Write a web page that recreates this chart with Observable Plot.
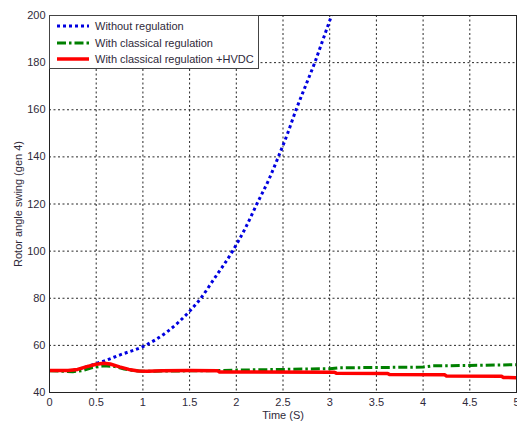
<!DOCTYPE html>
<html>
<head>
<meta charset="utf-8">
<script src="https://cdn.jsdelivr.net/npm/d3@7"></script>
<script src="https://cdn.jsdelivr.net/npm/@observablehq/plot@0.6"></script>
<style>
  html, body { margin: 0; padding: 0; background: #fff; }
  #wrap { position: relative; width: 517px; height: 421px; overflow: hidden; }
  #legend {
    position: absolute; left: 49px; top: 15px; width: 210px; height: 54px;
    background: #fff; border: 1px solid #444; box-sizing: border-box;
    font: 11px "Liberation Sans", Arial, sans-serif; color: #2f2a3a;
  }
  #legend .row { position: absolute; left: 6px; height: 16px; display: flex; align-items: center; }
  #legend svg { width: 34px; height: 8px; margin-right: 5px; }
</style>
</head>
<body>
<div id="wrap"></div>
<script>
const xTicks = [0, 0.5, 1, 1.5, 2, 2.5, 3, 3.5, 4, 4.5, 5];
const yTicks = [40, 60, 80, 100, 120, 140, 160, 180, 200];
const seriesNames = ["Without regulation", "With classical regulation", "With classical regulation +HVDC"];

const tBlue = [0, 0.2, 0.3, 0.4, 0.5, 0.6, 0.75, 1.0, 1.25, 1.5, 1.62, 1.75, 1.96, 2.1, 2.22, 2.35, 2.45, 2.55, 2.64, 2.74, 2.84, 2.93, 3.02, 3.1];
const vBlue = [49.3, 49.3, 49.8, 51.0, 52.3, 53.6, 55.9, 59.5, 65.5, 74.5, 80, 87.5, 100, 110, 120, 130.5, 140, 150, 160, 170, 180, 190, 200, 209];

const tGreen = [0, 0.15, 0.25, 0.35, 0.45, 0.58, 0.7, 0.8, 0.9, 1.0, 1.2, 1.5, 1.8, 2.0, 2.5, 3.0, 3.1, 3.5, 4.0, 4.1, 4.5, 5.0];
const vGreen = [49.2, 49.0, 48.8, 49.3, 50.5, 51.3, 51.0, 50.0, 49.3, 49.0, 49.1, 49.2, 49.3, 49.5, 49.8, 50.1, 50.5, 50.6, 50.8, 51.3, 51.5, 51.8];

const tRed = [0, 0.2, 0.3, 0.4, 0.5, 0.58, 0.65, 0.75, 0.85, 0.95, 1.05, 1.2, 1.5, 1.8, 1.82, 3.05, 3.07, 3.62, 3.64, 4.23, 4.25, 4.84, 4.86, 5.0];
const vRed = [49.3, 49.3, 49.8, 51.0, 52.0, 52.4, 52.1, 50.9, 49.8, 49.1, 49.0, 49.2, 49.3, 49.2, 48.7, 48.6, 48.2, 48.1, 47.6, 47.5, 47.0, 46.9, 46.4, 46.3];

const colors = ["#0000e0", "#008000", "#ff0000"];
const dashes = ["3,3", "9,3,2.5,3", null];
const widths = [3, 3, 3.5];

const toRows = (ts, vs) => ts.map((t, i) => ({t, v: vs[i]}));
const blue = toRows(tBlue, vBlue);
const green = toRows(tGreen, vGreen);
const red = toRows(tRed, vRed);

const font = '"Liberation Sans", Arial, sans-serif';
const plot = Plot.plot({
  width: 517,
  height: 421,
  marginLeft: 49,
  marginRight: 1,
  marginTop: 15,
  marginBottom: 29,
  style: {fontFamily: font, fontSize: "11px", color: "#2f2a3a", background: "#fff", overflow: "visible"},
  x: {domain: [0, 5]},
  y: {domain: [40, 200]},
  marks: [
    Plot.gridX(xTicks, {stroke: "#000", strokeOpacity: 0.85, strokeDasharray: "2,2.5"}),
    Plot.gridY(yTicks, {stroke: "#000", strokeOpacity: 0.85, strokeDasharray: "2,2.5"}),
    Plot.axisX({ticks: xTicks, tickFormat: d => String(d), tickSize: 0, tickPadding: 6,
      label: "Time (S)", labelAnchor: "center", labelArrow: "none", labelOffset: 26}),
    Plot.axisY({ticks: yTicks, tickSize: 0, tickPadding: 4,
      label: "Rotor angle swing (gen 4)", labelAnchor: "center", labelArrow: "none", labelOffset: 35}),
    Plot.line(blue, {x: "t", y: "v", stroke: colors[0], strokeWidth: widths[0], strokeDasharray: dashes[0], strokeLinecap: "butt", curve: "monotone-x", clip: "frame"}),
    Plot.line(green, {x: "t", y: "v", stroke: colors[1], strokeWidth: widths[1], strokeDasharray: dashes[1], strokeLinecap: "butt", curve: "linear", clip: "frame"}),
    Plot.line(red, {x: "t", y: "v", stroke: colors[2], strokeWidth: widths[2], strokeLinecap: "butt", curve: "linear", clip: "frame"}),
    Plot.frame({stroke: "#222", strokeWidth: 1})
  ]
});

const wrap = document.getElementById("wrap");
wrap.appendChild(plot);

const legend = document.createElement("div");
legend.id = "legend";
const rowTops = [2, 19, 35];
seriesNames.forEach((name, i) => {
  const row = document.createElement("div");
  row.className = "row";
  row.style.top = rowTops[i] + "px";
  const dash = dashes[i] ? ` stroke-dasharray="${dashes[i]}"` : "";
  row.innerHTML = `<svg viewBox="0 0 34 8"><line x1="1" y1="4" x2="33" y2="4" stroke="${colors[i]}" stroke-width="${widths[i]}"${dash}/></svg><span>${name}</span>`;
  legend.appendChild(row);
});
wrap.appendChild(legend);
</script>
</body>
</html>
